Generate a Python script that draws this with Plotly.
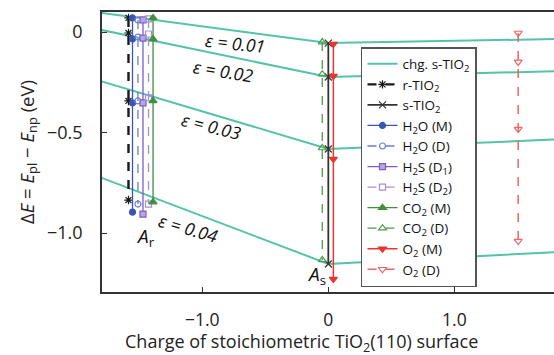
import plotly.graph_objects as go

# Charge of the stoichiometric TiO2(110) surface where each ε curve is evaluated
charge = [-1.8, 0.0, 1.8]

# ΔE of the charged s-TiO2 slab for each strain ε
chg_eps_001 = [0.095, -0.055, -0.035]
chg_eps_002 = [0.010, -0.224, -0.195]
chg_eps_003 = [-0.245, -0.582, -0.535]
chg_eps_004 = [-0.725, -1.154, -1.095]
eps_labels = ["0.01", "0.02", "0.03", "0.04"]

# Effective charge of each adsorbate/system and its ΔE at ε = 0.01 … 0.04
r_tio2_q, r_tio2_e = -1.585, [0.070, -0.005, -0.343, -0.836]
h2o_m_q, h2o_m_e = -1.553, [0.070, -0.035, -0.353, -0.896]
h2o_d_q, h2o_d_e = -1.510, [0.060, -0.025, -0.343, -0.856]
h2s_d1_q, h2s_d1_e = -1.470, [0.060, -0.030, -0.353, -0.906]
h2s_d2_q, h2s_d2_e = -1.426, [0.065, -0.010, -0.328, -0.856]
co2_m_q, co2_m_e = -1.390, [0.070, -0.035, -0.343, -0.846]
co2_d_q, co2_d_e = -0.048, [-0.050, -0.210, -0.577, -1.134]
s_tio2_q, s_tio2_e = 0.000, [-0.055, -0.224, -0.582, -1.154]
o2_m_q, o2_m_e = 0.040, [-0.060, -0.219, -0.632, -1.229]
o2_d_q, o2_d_e = 1.506, [-0.005, -0.149, -0.483, -1.040]

x_ticks = [-1.0, 0.0, 1.0]
x_tick_text = ["\u22121.0", "0", "1.0"]
y_ticks = [0.0, -0.5, -1.0]
y_tick_text = ["0", "\u22120.5", "\u22121.0"]

FONT = "Open Sans"
TEAL = "#55c3a7"

fig = go.Figure()

for i, vals in enumerate([chg_eps_001, chg_eps_002, chg_eps_003, chg_eps_004]):
    fig.add_trace(go.Scatter(
        x=charge, y=vals, mode="lines",
        line=dict(color=TEAL, width=2),
        name="chg. s-TIO<sub>2</sub>", legendgroup="chg",
        showlegend=(i == 0),
    ))

series = [
    ("r-TIO<sub>2</sub>", r_tio2_q, r_tio2_e, "#1a1a1a", "dash", 2.4, "asterisk-open", 7, None),
    ("s-TIO<sub>2</sub>", s_tio2_q, s_tio2_e, "#333333", "solid", 1.8, "x-thin-open", 7, None),
    ("H<sub>2</sub>O (M)", h2o_m_q, h2o_m_e, "#3b55b5", "solid", 1.3, "circle", 6, "#3b55b5"),
    ("H<sub>2</sub>O (D)", h2o_d_q, h2o_d_e, "#6a7ed6", "dash", 1.3, "circle-open", 6, None),
    ("H<sub>2</sub>S (D<sub>1</sub>)", h2s_d1_q, h2s_d1_e, "#7a5fc4", "solid", 1.3, "square", 6, "#b7a6e6"),
    ("H<sub>2</sub>S (D<sub>2</sub>)", h2s_d2_q, h2s_d2_e, "#a58fdc", "dash", 1.3, "square-open", 6, None),
    ("CO<sub>2</sub> (M)", co2_m_q, co2_m_e, "#3f8f3f", "solid", 1.3, "triangle-up", 7, "#3f8f3f"),
    ("CO<sub>2</sub> (D)", co2_d_q, co2_d_e, "#4f9a4f", "dash", 1.3, "triangle-up-open", 7, None),
    ("O<sub>2</sub> (M)", o2_m_q, o2_m_e, "#e8352f", "solid", 1.5, "triangle-down", 7, "#e8352f"),
    ("O<sub>2</sub> (D)", o2_d_q, o2_d_e, "#ee6666", "dash", 1.5, "triangle-down-open", 7, None),
]

for name, q, e, color, dash, lw, sym, ms, fill in series:
    marker = dict(symbol=sym, size=ms, color=fill if fill else color,
                  line=dict(color=color, width=1.2))
    fig.add_trace(go.Scatter(
        x=[q] * len(e), y=e, mode="lines+markers", name=name,
        line=dict(color=color, width=lw, dash=dash),
        marker=marker,
    ))

# Strain labels along the charged-slab curves
eps_pos = [(-0.74, -0.055, 6), (-0.83, -0.194, 9), (-0.93, -0.47, 14), (-1.11, -0.975, 16)]
for lab, (xx, yy, ang) in zip(eps_labels, eps_pos):
    fig.add_annotation(x=xx, y=yy, text=f"<i>\u03b5 = {lab}</i>", showarrow=False,
                       textangle=ang, font=dict(family=FONT, size=17.5, color="#111"))

fig.add_annotation(x=-1.45, y=-1.02, text="<i>A</i><sub>r</sub>", showarrow=False,
                   font=dict(family=FONT, size=19, color="#111"))
fig.add_annotation(x=-0.09, y=-1.21, text="<i>A</i><sub>s</sub>", showarrow=False,
                   font=dict(family=FONT, size=19, color="#111"))

# x-axis title, placed below the tick labels
fig.add_annotation(
    x=-0.215, xref="x", y=-0.18, yref="paper", yanchor="middle",
    text="Charge of stoichiometric TiO<sub>2</sub>(110) surface", showarrow=False,
    font=dict(family=FONT, size=18, color="#222"),
)

fig.update_layout(
    width=554, height=355,
    margin=dict(l=102, r=0, t=12, b=63),
    paper_bgcolor="white", plot_bgcolor="white",
    font=dict(family=FONT, size=18, color="#222"),
    showlegend=True,
    legend=dict(
        x=0.573, y=0.875, xanchor="left", yanchor="top",
        bgcolor="white", bordercolor="#555", borderwidth=1.5,
        font=dict(family=FONT, size=13.5, color="#111"),
        tracegroupgap=0, itemwidth=30,
    ),
)

fig.update_xaxes(
    range=[-1.795, 1.79], tickvals=x_ticks, ticktext=x_tick_text,
    ticks="inside", ticklen=5, tickcolor="#333", tickwidth=1.2,
    showline=True, linecolor="#333", linewidth=1.5, mirror=True,
    showgrid=False, zeroline=False, ticklabelstandoff=11,
    tickfont=dict(family=FONT, size=17.5, color="#222"),
)
fig.update_yaxes(
    range=[-1.2935, 0.0995], tickvals=y_ticks, ticktext=y_tick_text,
    ticks="inside", ticklen=5, tickcolor="#333", tickwidth=1.2,
    showline=True, linecolor="#333", linewidth=1.5, mirror=False,
    showgrid=False, zeroline=False, ticklabelstandoff=14,
    tickfont=dict(family=FONT, size=18, color="#222"),
    title=dict(text="\u0394<i>E</i> = <i>E</i><sub>pl</sub> \u2212 <i>E</i><sub>np</sub> (eV)",
               standoff=8, font=dict(family=FONT, size=18.5, color="#222")),
)

fig.write_html("out.html")
